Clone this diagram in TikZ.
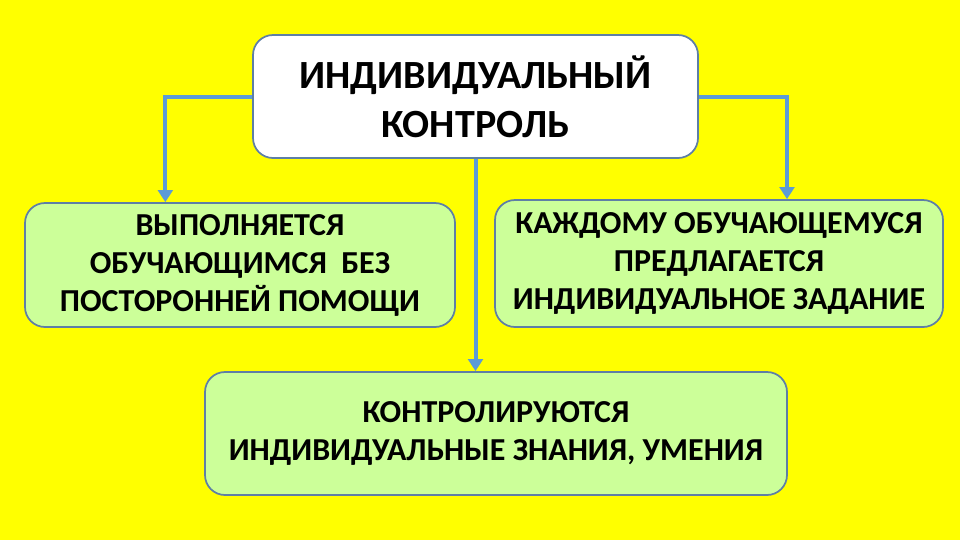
\documentclass[tikz,border=0pt]{standalone}
\usepackage{fontspec}
\setmainfont{Carlito}
\usetikzlibrary{arrows.meta}
\definecolor{bgyellow}{HTML}{FFFF00}
\definecolor{boxgreen}{HTML}{CCFF99}
\definecolor{boxline}{HTML}{5E7FA6}
\definecolor{linkblue}{HTML}{5B9BD5}
\tikzset{
  box/.style={draw=boxline, line width=1.3pt, rounded corners=15pt, align=center,
    font=\bfseries\fontsize{24}{28.5}\selectfont, inner sep=0pt},
  link/.style={draw=linkblue, line width=3pt, -{Triangle[width=11pt,length=9pt]}}
}
\begin{document}
\begin{tikzpicture}[x=0.75pt, y=-0.75pt]
% Фон
\fill[bgyellow] (0,0) rectangle (960,540);
\useasboundingbox (0,0) rectangle (960,540);
% Блоки
\node[box, fill=white, minimum width=333.75pt, minimum height=92.25pt,
  font=\bfseries\fontsize{30}{36.75}\selectfont] (ctrl) at (475.5,96.5)
  {ИНДИВИДУАЛЬНЫЙ\\КОНТРОЛЬ};
\node[box, fill=boxgreen, minimum width=322.5pt, minimum height=93pt] (left) at (240,265)
  {ВЫПОЛНЯЕТСЯ\\ОБУЧАЮЩИМСЯ\ \ БЕЗ\\ПОСТОРОННЕЙ ПОМОЩИ};
\node[box, fill=boxgreen, minimum width=336pt, minimum height=95.25pt] (right) at (719,263.5)
  {КАЖДОМУ ОБУЧАЮЩЕМУСЯ\\ПРЕДЛАГАЕТСЯ\\ИНДИВИДУАЛЬНОЕ ЗАДАНИЕ};
\node[box, fill=boxgreen, minimum width=436.5pt, minimum height=92.25pt] (bottom) at (496,433.5)
  {КОНТРОЛИРУЮТСЯ\\ИНДИВИДУАЛЬНЫЕ ЗНАНИЯ, УМЕНИЯ};
% Стрелки
\draw[link] (ctrl.west) -| ([xshift=-56pt]left.north);
\draw[link] (ctrl.east) -| ([xshift=51pt]right.north);
\draw[link] (ctrl.south) -- (ctrl.south |- bottom.north);
\end{tikzpicture}
\end{document}
